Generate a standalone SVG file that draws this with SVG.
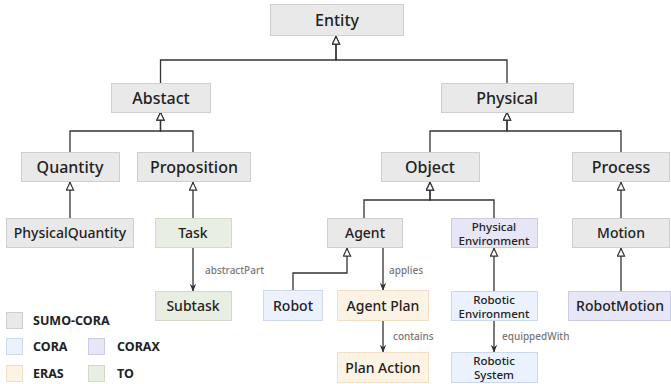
<svg xmlns="http://www.w3.org/2000/svg" width="671" height="384" viewBox="0 0 671 384">
<defs>
<marker id="inh" viewBox="0 0 10 10" refX="10" refY="5" markerWidth="9" markerHeight="9" markerUnits="userSpaceOnUse" orient="auto">
<path d="M1,1 L9.5,5 L1,9 z" fill="#fff" stroke="#333" stroke-width="1.3"/>
</marker>
<marker id="arr" viewBox="0 0 10 10" refX="9" refY="5" markerWidth="8" markerHeight="8" markerUnits="userSpaceOnUse" orient="auto">
<path d="M0,1 L10,5 L0,9 L3,5 z" fill="#333"/>
</marker>
</defs>
<style>
text{font-family:"Noto Sans","Open Sans","DejaVu Sans",sans-serif;fill:#222;text-anchor:middle;font-weight:500}
.big{font-size:16px}
.mid{font-size:14px}
.sm{font-size:11.5px}
.lbl{font-size:10px;fill:#777;text-anchor:start;font-weight:500}
.leg{font-size:12.5px;font-weight:700;text-anchor:start}
.g rect{fill:#e9e9e9;stroke:#cfcfcf}
.cora rect,rect.cora{fill:#ebf2fd;stroke:#cbd8ee}
.corax rect,rect.corax{fill:#e6e6f7;stroke:#cbcbe6}
.eras rect,rect.eras{fill:#fdf3e4;stroke:#f0dfc6}
.to rect,rect.to{fill:#e8eee2;stroke:#d0dac6}
rect.g{fill:#e9e9e9;stroke:#cfcfcf}
.c path{fill:none;stroke:#333;stroke-width:1.3}
</style>
<g class="c" id="connectors">
<path d="M160.5,83 V60 H336 V36" marker-end="url(#inh)"/>
<path d="M507,83 V60 H336 V36" marker-end="url(#inh)"/>
<path d="M70,152 V131 H160.5 V112" marker-end="url(#inh)"/>
<path d="M193,152 V131 H160.5 V112" marker-end="url(#inh)"/>
<path d="M430,152 V131 H507 V112" marker-end="url(#inh)"/>
<path d="M621,152 V131 H507 V112" marker-end="url(#inh)"/>
<path d="M70,218 V182" marker-end="url(#inh)"/>
<path d="M193,218 V182" marker-end="url(#inh)"/>
<path d="M364,218 V200 H430 V182" marker-end="url(#inh)"/>
<path d="M494,218 V200 H430 V182" marker-end="url(#inh)"/>
<path d="M621,218 V182" marker-end="url(#inh)"/>
<path d="M621,291 V248" marker-end="url(#inh)"/>
<path d="M293,290 V273 H347 V248" marker-end="url(#inh)"/>
<path d="M494,291 V248" marker-end="url(#inh)"/>
<path d="M193,248 V291" marker-end="url(#arr)"/>
<path d="M383,248 V290" marker-end="url(#arr)"/>
<path d="M383,321 V352" marker-end="url(#arr)"/>
<path d="M494,321 V352" marker-end="url(#arr)"/>
<text class="lbl" x="205" y="274">abstractPart</text>
<text class="lbl" x="389" y="274">applies</text>
<text class="lbl" x="393" y="340">contains</text>
<text class="lbl" x="502" y="340">equippedWith</text>
</g>
<g id="entity" class="g"><rect x="270.5" y="4.5" width="133" height="31"/><text class="big" x="337" y="26">Entity</text></g>
<g id="abstract" class="g"><rect x="111.5" y="83.5" width="99" height="29"/><text class="big" x="161" y="104">Abstact</text></g>
<g id="physical" class="g"><rect x="441.5" y="83.5" width="132" height="29"/><text class="big" x="507" y="104">Physical</text></g>
<g id="quantity" class="g"><rect x="21.5" y="152.5" width="98" height="29"/><text class="big" x="70" y="173">Quantity</text></g>
<g id="proposition" class="g"><rect x="137.5" y="152.5" width="113" height="29"/><text class="big" x="194" y="173">Proposition</text></g>
<g id="object" class="g"><rect x="381.5" y="152.5" width="98" height="29"/><text class="big" x="430" y="173">Object</text></g>
<g id="process" class="g"><rect x="572.5" y="152.5" width="97" height="29"/><text class="big" x="621" y="173">Process</text></g>
<g id="physicalquantity" class="g"><rect x="6.5" y="218.5" width="127" height="29"/><text class="mid" x="70" y="238">PhysicalQuantity</text></g>
<g id="task" class="to"><rect x="155.5" y="218.5" width="76" height="29"/><text class="mid" x="193" y="238">Task</text></g>
<g id="subtask" class="to"><rect x="155.5" y="291.5" width="76" height="29"/><text class="mid" x="193" y="311">Subtask</text></g>
<g id="agent" class="g"><rect x="327.5" y="218.5" width="75" height="29"/><text class="mid" x="365" y="238">Agent</text></g>
<g id="physicalenvironment" class="corax"><rect x="451.5" y="218.5" width="86" height="29"/><text class="sm" x="494" y="231">Physical</text><text class="sm" x="494" y="245">Environment</text></g>
<g id="motion" class="g"><rect x="572.5" y="218.5" width="97" height="29"/><text class="mid" x="621" y="238">Motion</text></g>
<g id="robot" class="cora"><rect x="263.5" y="290.5" width="59" height="30"/><text class="mid" x="293" y="311">Robot</text></g>
<g id="agentplan" class="eras"><rect x="337.5" y="290.5" width="91" height="30"/><text class="mid" x="383" y="311">Agent Plan</text></g>
<g id="planaction" class="eras"><rect x="337.5" y="352.5" width="91" height="30"/><text class="mid" x="383" y="373">Plan Action</text></g>
<g id="roboticenvironment" class="cora"><rect x="451.5" y="291.5" width="86" height="29"/><text class="sm" x="494" y="304">Robotic</text><text class="sm" x="494" y="318">Environment</text></g>
<g id="roboticsystem" class="cora"><rect x="451.5" y="352.5" width="86" height="30"/><text class="sm" x="494" y="365">Robotic</text><text class="sm" x="494" y="379">System</text></g>
<g id="robotmotion" class="corax"><rect x="568.5" y="291.5" width="102" height="29"/><text class="mid" x="620" y="311">RobotMotion</text></g>
<g id="legend">
<rect class="g" x="6.5" y="312.5" width="16" height="16"/><text class="leg" x="33" y="325">SUMO-CORA</text>
<rect class="cora" x="6.5" y="338.5" width="16" height="16"/><text class="leg" x="33" y="351">CORA</text>
<rect class="corax" x="88.5" y="338.5" width="16" height="16"/><text class="leg" x="117" y="351">CORAX</text>
<rect class="eras" x="6.5" y="365.5" width="16" height="16"/><text class="leg" x="33" y="378">ERAS</text>
<rect class="to" x="88.5" y="365.5" width="16" height="16"/><text class="leg" x="117" y="378">TO</text>
</g>
</svg>
